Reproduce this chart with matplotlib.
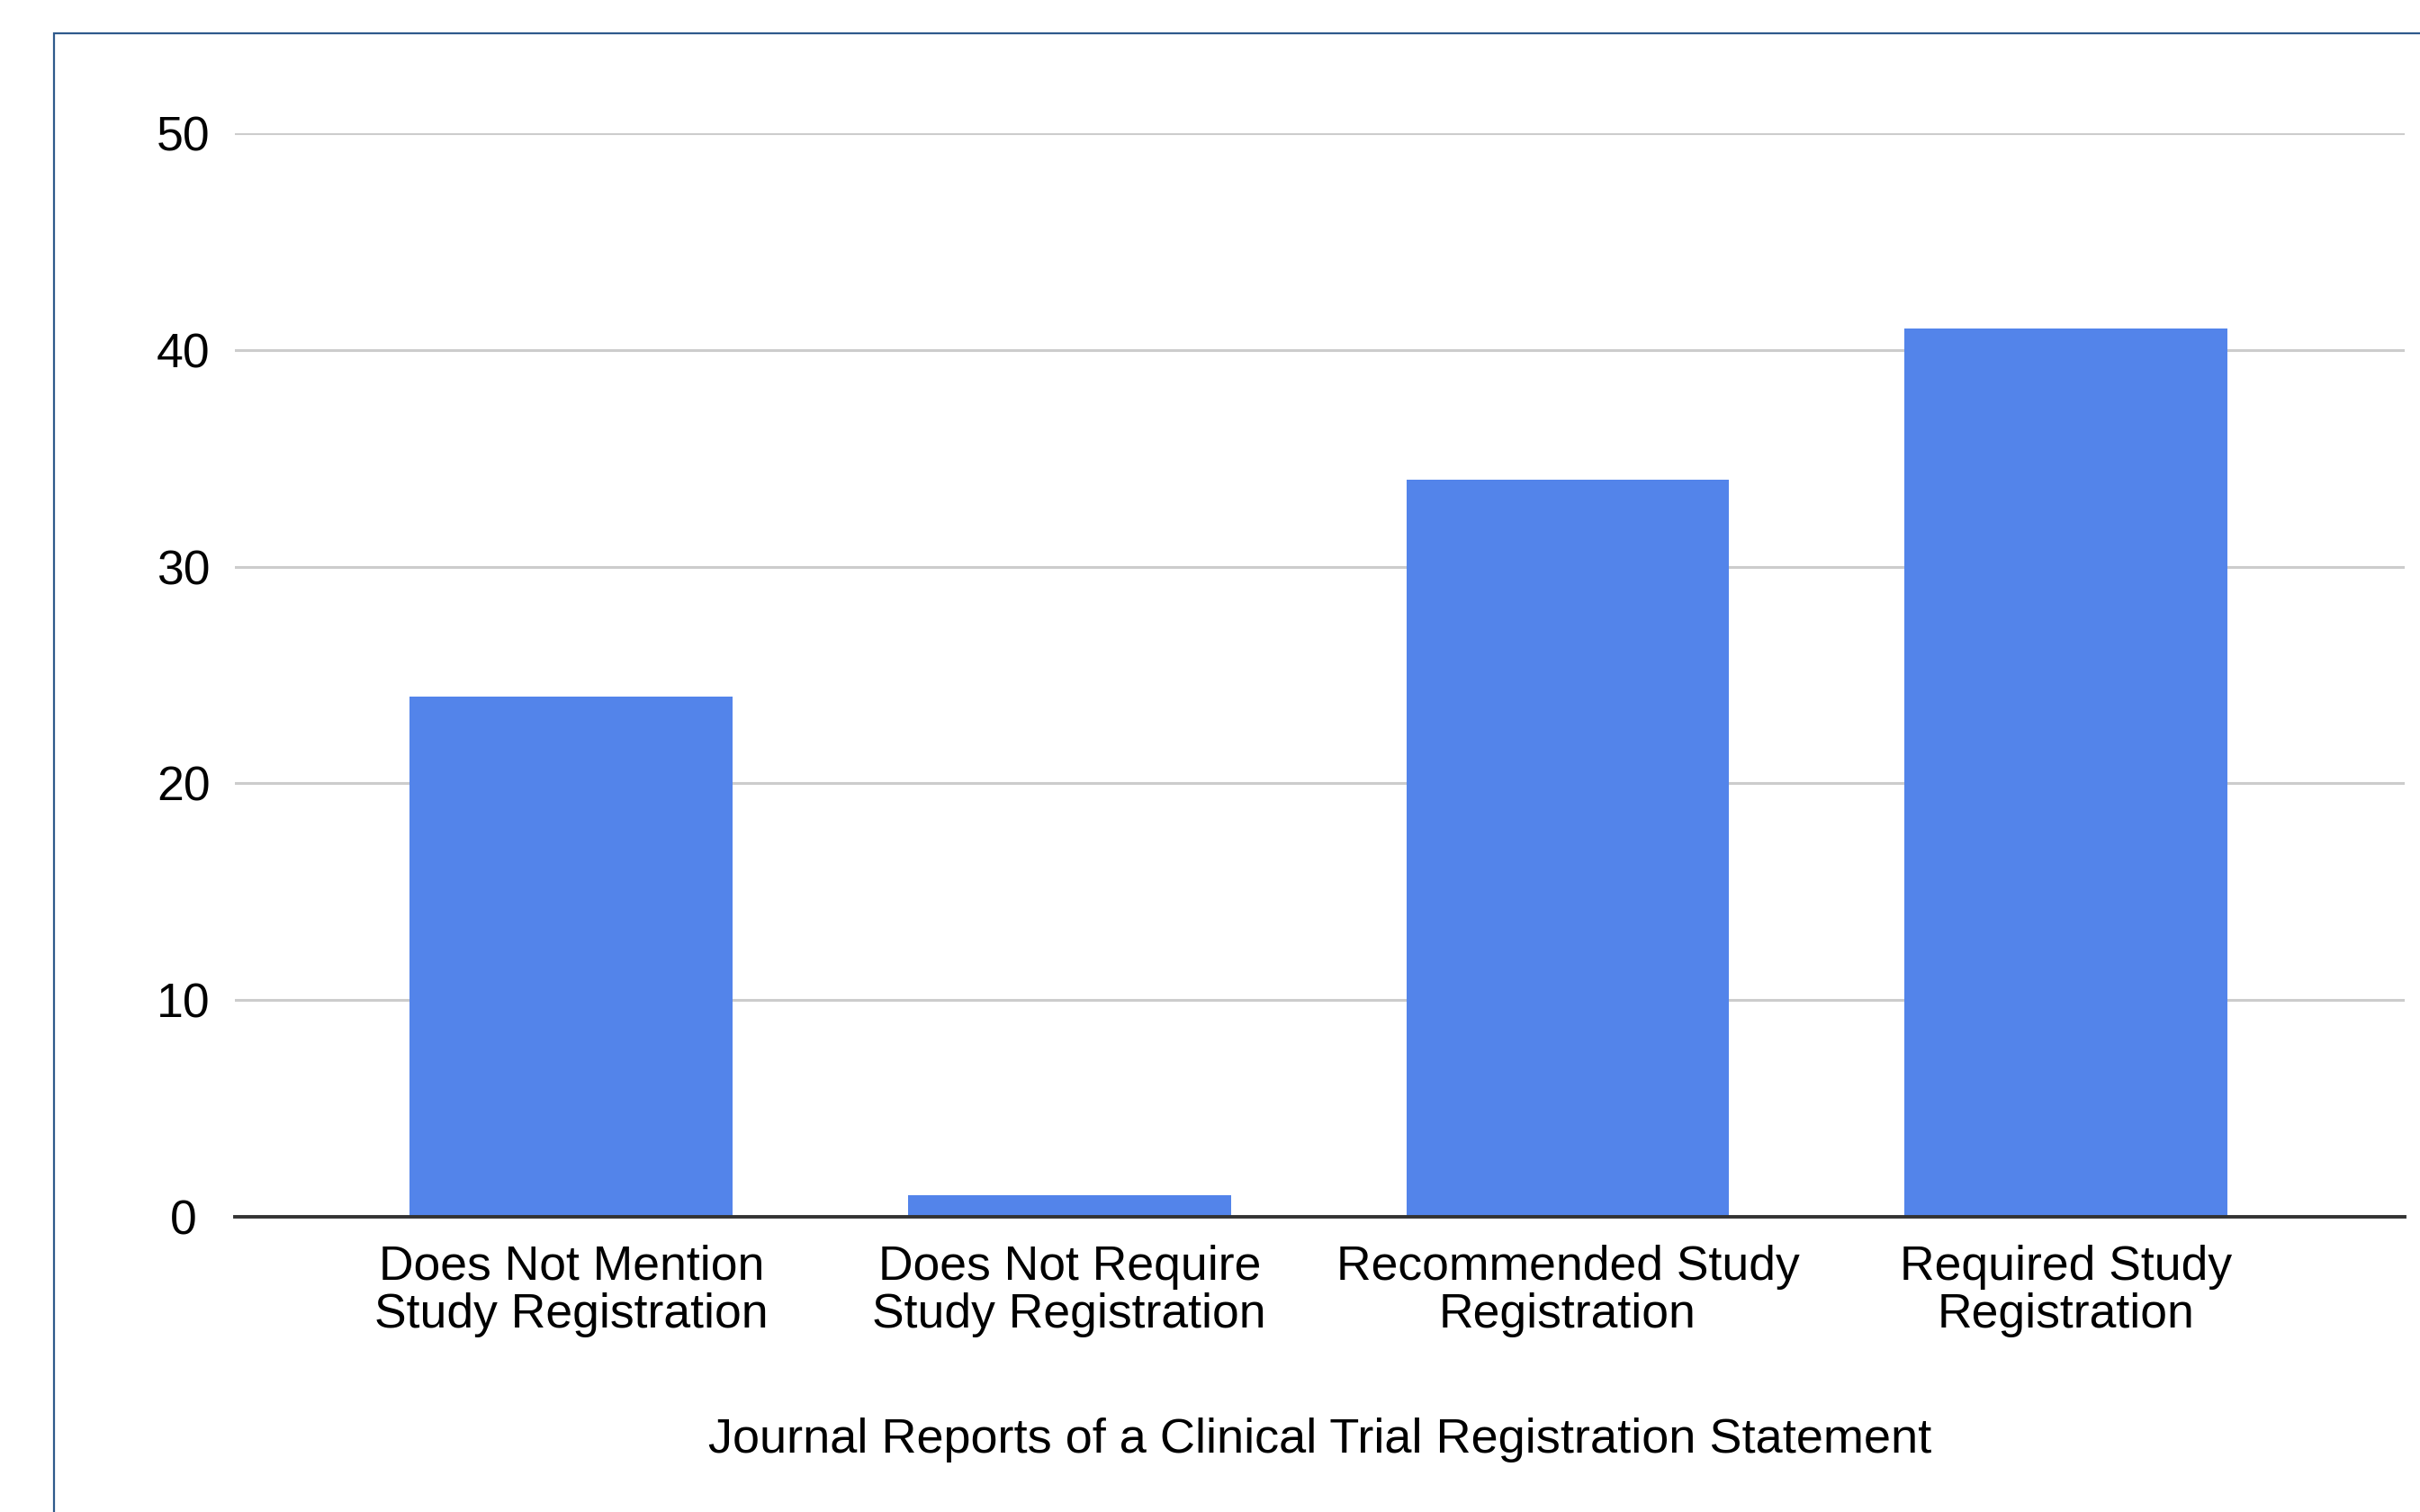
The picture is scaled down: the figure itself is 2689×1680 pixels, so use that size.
import matplotlib
matplotlib.use("Agg")
import matplotlib.pyplot as plt
from matplotlib.patches import Rectangle

categories = [
    "Does Not Mention\nStudy Registration",
    "Does Not Require\nStudy Registration",
    "Recommended Study\nRegistration",
    "Required Study\nRegistration",
]
counts = [24, 1, 34, 41]
y_ticks = [0, 10, 20, 30, 40, 50]
x_title = "Journal Reports of a Clinical Trial Registration Statement"

plt.rcParams["font.family"] = ["Liberation Sans", "DejaVu Sans"]

W, H, DPI = 2689, 1680, 100
fig = plt.figure(figsize=(W / DPI, H / DPI), dpi=DPI, facecolor="white")

# Outer frame of the chart card (runs off the right and bottom edges)
fig.patches.append(Rectangle((60 / W, -0.1), 1.2, (H - 37) / H + 0.1,
                             transform=fig.transFigure, fill=False,
                             edgecolor="#2f5a8c", linewidth=1.6, zorder=0))

ax = fig.add_axes([261 / W, (H - 1352) / H, (2672 - 261) / W, (1352 - 148) / H])
ax.set_facecolor("white")

x = list(range(len(categories)))
ax.bar(x, counts, width=0.648, color="#5384ea", zorder=3)

ax.set_xlim(-0.675, 3.68)
ax.set_ylim(0, 50)
ax.set_yticks(y_ticks)
ax.set_yticklabels([str(v) for v in y_ticks])
ax.set_xticks(x)
ax.set_xticklabels(categories, fontsize=38.5, linespacing=1.08)

ax.grid(axis="y", color="#cccccc", linewidth=2.2, zorder=0)
ax.set_axisbelow(True)
for side in ("top", "right", "left"):
    ax.spines[side].set_visible(False)
ax.spines["bottom"].set_color("#333333")
ax.spines["bottom"].set_linewidth(2.8)
ax.spines["bottom"].set_zorder(4)

ax.tick_params(axis="y", length=0, labelsize=38.5, pad=41)
for lbl in ax.get_yticklabels():
    lbl.set_horizontalalignment("center")
ax.tick_params(axis="x", length=0, pad=22)

ax.set_xlabel(x_title, fontsize=39, labelpad=64)

fig.savefig("out.png", dpi=DPI, facecolor="white")
